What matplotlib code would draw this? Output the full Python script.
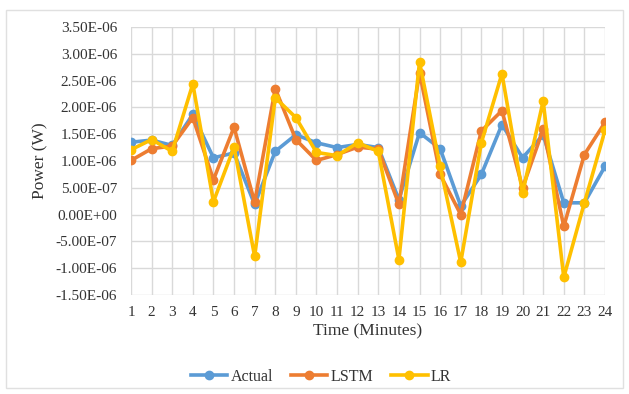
import matplotlib.pyplot as plt
import matplotlib.ticker as mticker
from matplotlib.patches import Rectangle

plt.rcParams["font.family"] = ["Liberation Serif", "DejaVu Serif"]

minutes = list(range(1, 25))
actual = [1.35, 1.39, 1.29, 1.87, 1.06, 1.15, 0.19, 1.18, 1.49, 1.34, 1.25, 1.31,
          1.25, 0.28, 1.53, 1.23, 0.16, 0.75, 1.68, 1.06, 1.49, 0.22, 0.22, 0.90]
lstm = [1.01, 1.23, 1.28, 1.81, 0.65, 1.63, 0.23, 2.35, 1.40, 1.01, 1.12, 1.26,
        1.22, 0.19, 2.65, 0.75, 0.00, 1.56, 1.94, 0.50, 1.59, -0.22, 1.12, 1.72]
lr = [1.21, 1.40, 1.18, 2.44, 0.24, 1.26, -0.78, 2.18, 1.81, 1.16, 1.10, 1.34,
      1.18, -0.84, 2.85, 0.90, -0.89, 1.34, 2.63, 0.40, 2.12, -1.17, 0.22, 1.57]
series = [("Actual", actual, "#5B9BD5"),
          ("LSTM", lstm, "#ED7D31"),
          ("LR", lr, "#FFC000")]

fig = plt.figure(figsize=(6.29, 3.94), dpi=100)
ax = fig.add_axes([131 / 629, 99 / 394, 474 / 629, 268 / 394])

for name, vals, col in series:
    ax.plot(minutes, [v * 1e-6 for v in vals], color=col, lw=2.6, marker="o",
            markersize=6, label=name, zorder=3)

ax.set_xlim(1, 24)
ax.set_ylim(-1.5e-6, 3.5e-6)
ax.set_xticks(minutes)
ax.yaxis.set_major_locator(mticker.MultipleLocator(0.5e-6))
ax.yaxis.set_major_formatter(mticker.FuncFormatter(lambda v, p: "%.2E" % v))
ax.grid(True, color="#D9D9D9", lw=1)
ax.set_axisbelow(True)
for s in ax.spines.values():
    s.set_visible(False)
ax.tick_params(length=0, labelsize=11, colors="#333333", pad=8)
ax.tick_params(axis="y", pad=10)

ax.set_xlabel("Time (Minutes)", fontsize=12.5, color="#333333", labelpad=3)
ax.set_ylabel("Power (W)", fontsize=12.5, color="#333333", labelpad=5)

fig.legend(loc="center", bbox_to_anchor=(321 / 629, 1 - 377 / 394), ncol=3,
           frameon=False, fontsize=11.5, handlelength=2.3, handletextpad=0.2,
           columnspacing=1.1, labelcolor="#333333")

fig.patches.append(Rectangle((6 / 629, 6 / 394), 617 / 629, 378 / 394,
                             transform=fig.transFigure, fill=False,
                             edgecolor="#E0E0E0", lw=1))

fig.savefig("out.png", dpi=100)
